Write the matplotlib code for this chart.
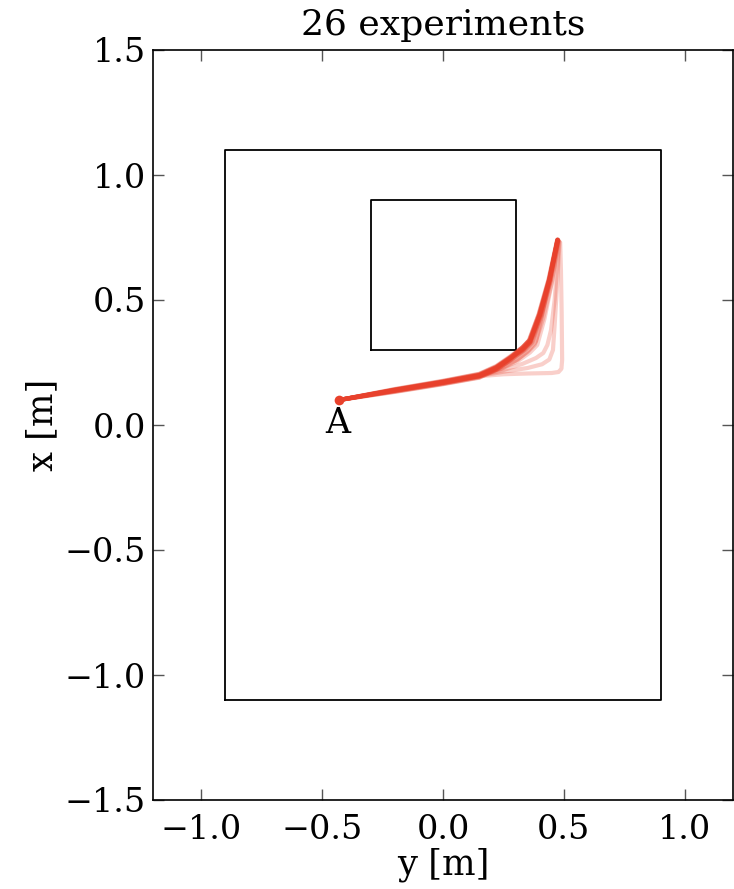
import matplotlib
matplotlib.use("Agg")
import matplotlib.pyplot as plt

# ---- data ----
title = "26 experiments"
xlabel = "y [m]"
ylabel = "x [m]"
xticks = [-1.0, -0.5, 0.0, 0.5, 1.0]
yticks = [-1.5, -1.0, -0.5, 0.0, 0.5, 1.0, 1.5]
xlim = (-1.2, 1.2)
ylim = (-1.5, 1.5)

# outer boundary and obstacle (horizontal = y, vertical = x)
outer_h = [-0.9, 0.9, 0.9, -0.9, -0.9]
outer_v = [-1.1, -1.1, 1.1, 1.1, -1.1]
obst_h = [-0.3, 0.3, 0.3, -0.3, -0.3]
obst_v = [0.3, 0.3, 0.9, 0.9, 0.3]

start_h, start_v = -0.43, 0.10
start_label = "A"

# 26 trajectories: horizontal (y) and vertical (x) coordinates
traj_h = [
    [-0.43, -0.20, 0.00, 0.15, 0.22, 0.28, 0.330, 0.360, 0.400, 0.440, 0.474],
    [-0.43, -0.20, 0.00, 0.15, 0.22, 0.28, 0.330, 0.360, 0.400, 0.440, 0.474],
    [-0.43, -0.20, 0.00, 0.15, 0.22, 0.28, 0.335, 0.365, 0.405, 0.444, 0.476],
    [-0.43, -0.20, 0.00, 0.15, 0.22, 0.28, 0.325, 0.355, 0.395, 0.436, 0.472],
    [-0.43, -0.20, 0.00, 0.15, 0.22, 0.28, 0.330, 0.360, 0.400, 0.440, 0.474],
    [-0.43, -0.20, 0.00, 0.15, 0.22, 0.28, 0.332, 0.363, 0.403, 0.442, 0.475],
    [-0.43, -0.20, 0.00, 0.15, 0.22, 0.28, 0.328, 0.357, 0.397, 0.438, 0.473],
    [-0.43, -0.20, 0.00, 0.15, 0.22, 0.28, 0.330, 0.360, 0.400, 0.440, 0.474],
    [-0.43, -0.20, 0.00, 0.15, 0.22, 0.28, 0.336, 0.366, 0.406, 0.445, 0.476],
    [-0.43, -0.20, 0.00, 0.15, 0.22, 0.28, 0.326, 0.356, 0.396, 0.437, 0.473],
    [-0.43, -0.20, 0.00, 0.15, 0.22, 0.28, 0.330, 0.360, 0.400, 0.440, 0.474],
    [-0.43, -0.20, 0.00, 0.15, 0.22, 0.28, 0.333, 0.362, 0.402, 0.441, 0.475],
    [-0.43, -0.20, 0.00, 0.15, 0.22, 0.28, 0.329, 0.358, 0.398, 0.439, 0.474],
    [-0.43, -0.20, 0.00, 0.15, 0.22, 0.28, 0.330, 0.360, 0.400, 0.440, 0.474],
    [-0.43, -0.20, 0.00, 0.15, 0.22, 0.28, 0.334, 0.364, 0.404, 0.443, 0.475],
    [-0.43, -0.20, 0.00, 0.15, 0.22, 0.28, 0.327, 0.357, 0.397, 0.438, 0.473],
    [-0.43, -0.20, 0.00, 0.15, 0.22, 0.28, 0.330, 0.361, 0.401, 0.441, 0.474],
    [-0.43, -0.20, 0.00, 0.15, 0.22, 0.28, 0.331, 0.359, 0.399, 0.439, 0.474],
    [-0.43, -0.20, 0.00, 0.15, 0.23, 0.29, 0.340, 0.370, 0.408, 0.446, 0.476],
    [-0.43, -0.20, 0.00, 0.15, 0.23, 0.30, 0.350, 0.380, 0.415, 0.450, 0.477],
    [-0.43, -0.20, 0.00, 0.15, 0.22, 0.28, 0.332, 0.362, 0.401, 0.441, 0.474],
    [-0.43, -0.20, 0.00, 0.15, 0.25, 0.31, 0.355, 0.385, 0.410, 0.440, 0.477],
    [-0.43, -0.20, 0.00, 0.15, 0.25, 0.33, 0.385, 0.415, 0.432, 0.447, 0.462, 0.480],
    [-0.43, -0.20, 0.00, 0.15, 0.25, 0.35, 0.410, 0.440, 0.455, 0.462, 0.472, 0.482],
    [-0.43, -0.20, 0.00, 0.15, 0.25, 0.35, 0.450, 0.478, 0.490, 0.493, 0.491, 0.488, 0.485],
    [-0.43, -0.20, 0.00, 0.15, 0.24, 0.31, 0.360, 0.390, 0.420, 0.450, 0.478],
]
traj_v = [
    [0.100, 0.138, 0.170, 0.197, 0.228, 0.268, 0.305, 0.335, 0.440, 0.580, 0.740],
    [0.100, 0.142, 0.175, 0.203, 0.234, 0.274, 0.311, 0.341, 0.445, 0.583, 0.738],
    [0.100, 0.134, 0.165, 0.191, 0.222, 0.262, 0.299, 0.329, 0.435, 0.577, 0.742],
    [0.100, 0.140, 0.173, 0.200, 0.231, 0.271, 0.308, 0.338, 0.442, 0.581, 0.739],
    [0.100, 0.136, 0.167, 0.194, 0.225, 0.265, 0.302, 0.332, 0.438, 0.579, 0.741],
    [0.100, 0.144, 0.177, 0.205, 0.236, 0.276, 0.313, 0.343, 0.447, 0.585, 0.737],
    [0.100, 0.132, 0.163, 0.189, 0.220, 0.260, 0.297, 0.327, 0.433, 0.575, 0.742],
    [0.100, 0.139, 0.171, 0.198, 0.229, 0.269, 0.306, 0.336, 0.441, 0.580, 0.740],
    [0.100, 0.141, 0.174, 0.201, 0.230, 0.268, 0.304, 0.334, 0.439, 0.579, 0.739],
    [0.100, 0.135, 0.166, 0.193, 0.226, 0.267, 0.305, 0.336, 0.441, 0.581, 0.741],
    [0.100, 0.143, 0.176, 0.204, 0.233, 0.272, 0.309, 0.339, 0.443, 0.582, 0.738],
    [0.100, 0.137, 0.168, 0.195, 0.226, 0.266, 0.303, 0.333, 0.439, 0.579, 0.741],
    [0.100, 0.140, 0.172, 0.199, 0.231, 0.272, 0.310, 0.340, 0.444, 0.583, 0.739],
    [0.100, 0.133, 0.164, 0.190, 0.221, 0.261, 0.298, 0.328, 0.434, 0.576, 0.742],
    [0.100, 0.141, 0.173, 0.200, 0.229, 0.267, 0.303, 0.333, 0.438, 0.578, 0.740],
    [0.100, 0.138, 0.169, 0.196, 0.229, 0.270, 0.308, 0.339, 0.443, 0.582, 0.740],
    [0.100, 0.136, 0.168, 0.195, 0.227, 0.267, 0.304, 0.334, 0.440, 0.580, 0.741],
    [0.100, 0.142, 0.174, 0.202, 0.232, 0.271, 0.307, 0.337, 0.442, 0.581, 0.739],
    [0.100, 0.139, 0.171, 0.198, 0.227, 0.265, 0.300, 0.330, 0.436, 0.576, 0.739],
    [0.100, 0.140, 0.172, 0.199, 0.225, 0.258, 0.292, 0.322, 0.428, 0.570, 0.738],
    [0.100, 0.138, 0.170, 0.197, 0.229, 0.268, 0.305, 0.335, 0.440, 0.580, 0.740],
    [0.100, 0.139, 0.171, 0.198, 0.230, 0.262, 0.300, 0.335, 0.440, 0.580, 0.738],
    [0.100, 0.140, 0.171, 0.197, 0.220, 0.245, 0.268, 0.288, 0.320, 0.380, 0.500, 0.735],
    [0.100, 0.139, 0.170, 0.196, 0.213, 0.228, 0.243, 0.262, 0.300, 0.400, 0.560, 0.733],
    [0.100, 0.139, 0.170, 0.195, 0.203, 0.206, 0.208, 0.212, 0.225, 0.260, 0.450, 0.620, 0.730],
    [0.100, 0.138, 0.170, 0.197, 0.224, 0.256, 0.290, 0.320, 0.425, 0.568, 0.738],
]

# ---- style ----
red = "#e8412c"
plt.rcParams["font.family"] = ["DejaVu Serif"]
plt.rcParams["mathtext.fontset"] = "dejavuserif"

fig = plt.figure(figsize=(7.34, 8.89), dpi=100)
ax = fig.add_axes([153 / 734, 89 / 889, 580 / 734, 750 / 889])

ax.plot(outer_h, outer_v, color="black", lw=1.3)
ax.plot(obst_h, obst_v, color="black", lw=1.3)

for h, v in zip(traj_h, traj_v):
    ax.plot(h, v, color=red, lw=3.0, alpha=0.25,
            solid_joinstyle="round", solid_capstyle="round")

ax.plot([start_h], [start_v], "o", color=red, markersize=7, markeredgewidth=0)
ax.text(start_h - 0.005, start_v - 0.025, start_label, ha="center", va="top",
        fontsize=25)

ax.set_xlim(*xlim)
ax.set_ylim(*ylim)
ax.set_xticks(xticks)
ax.set_yticks(yticks)
ax.tick_params(direction="in", length=8, width=1, top=True, right=True,
               labelsize=24, color="#555555")
ax.tick_params(axis="x", pad=10)
ax.tick_params(axis="y", pad=5)
for s in ax.spines.values():
    s.set_linewidth(1.2)

ax.set_title(title, fontsize=26, pad=11)
ax.set_xlabel(xlabel, fontsize=25.5, labelpad=1)
ax.set_ylabel(ylabel, fontsize=25.5, labelpad=4)

fig.savefig("out.png", dpi=100)
